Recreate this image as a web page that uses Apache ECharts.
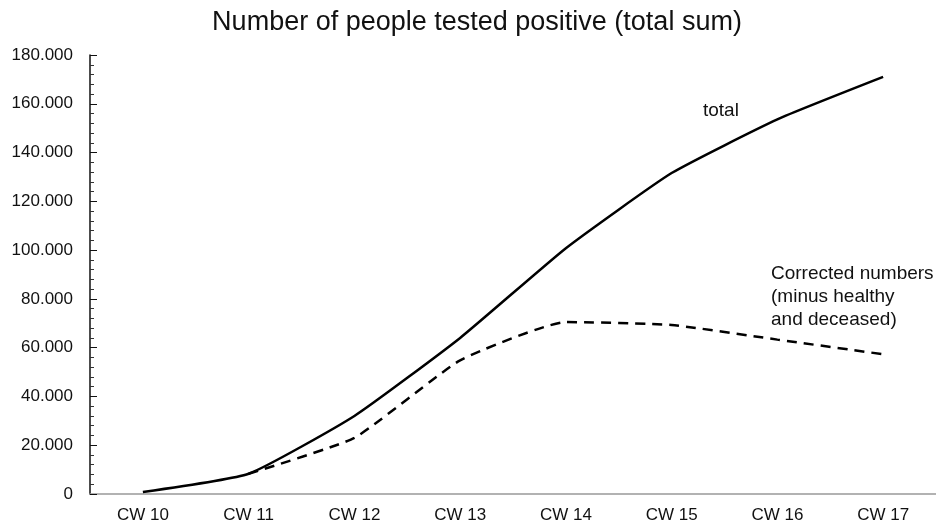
<!DOCTYPE html>
<html>
<head>
<meta charset="utf-8">
<script src="https://cdn.jsdelivr.net/npm/echarts@6/dist/echarts.min.js"></script>
<style>html,body{margin:0;padding:0;background:#fff;}#c{width:936px;height:527px;}</style>
</head>
<body>
<div id="c"></div>
<script>
var categories = ['CW 10','CW 11','CW 12','CW 13','CW 14','CW 15','CW 16','CW 17'];
var totalValues = [800, 8300, 32000, 64000, 100800, 131600, 153600, 171000];
var correctedValues = [null, 8300, 23000, 54800, 70500, 69300, 63300, 57300];
var yTicks = { min: 0, max: 180000, interval: 20000 };
var titleText = 'Number of people tested positive (total sum)';
var totalLabel = 'total';
var correctedLabel = 'Corrected numbers\n(minus healthy\nand deceased)';

function fmt(v){ return String(v).replace(/\B(?=(\d{3})+(?!\d))/g, '.'); }

var FONT = "'Liberation Sans', Arial, Helvetica, sans-serif";
var chart = echarts.init(document.getElementById('c'));
chart.setOption({
  animation: false,
  backgroundColor: '#fff',
  title: {
    text: titleText, left: 472, top: 4, textAlign: 'center',
    textStyle: { fontFamily: FONT, fontSize: 27, fontWeight: 'normal', color: '#111' }
  },
  grid: { left: 90, top: 55, width: 856, bottom: 33 },
  xAxis: {
    type: 'category', data: categories, boundaryGap: true,
    axisLine: { lineStyle: { color: '#999', width: 1.5 } },
    axisTick: { show: false },
    axisLabel: { fontFamily: FONT, fontSize: 17, color: '#111', margin: 13 }
  },
  yAxis: {
    type: 'value', min: yTicks.min, max: yTicks.max, interval: yTicks.interval,
    axisLine: { show: true, lineStyle: { color: '#111', width: 1.5 } },
    axisTick: { show: true, inside: true, length: 7, lineStyle: { color: '#111' } },
    minorTick: { show: true, splitNumber: 5, length: 4, lineStyle: { color: '#333' } },
    splitLine: { show: false },
    axisLabel: { fontFamily: FONT, fontSize: 17, color: '#111', margin: 17, formatter: fmt }
  },
  series: [
    { type: 'line', data: totalValues, smooth: 0.15, symbol: 'none',
      lineStyle: { color: '#000', width: 2.5 } },
    { type: 'line', data: correctedValues, smooth: 0.15, symbol: 'none',
      lineStyle: { color: '#000', width: 2.5, type: [10, 7] } }
  ],
  graphic: [
    { type: 'text', left: 703, top: 101, style: { text: totalLabel, font: '19px ' + FONT, fill: '#111' } },
    { type: 'text', left: 771, top: 262, style: { text: correctedLabel, font: '19px ' + FONT, fill: '#111', lineHeight: 23 } }
  ]
});
</script>
</body>
</html>
